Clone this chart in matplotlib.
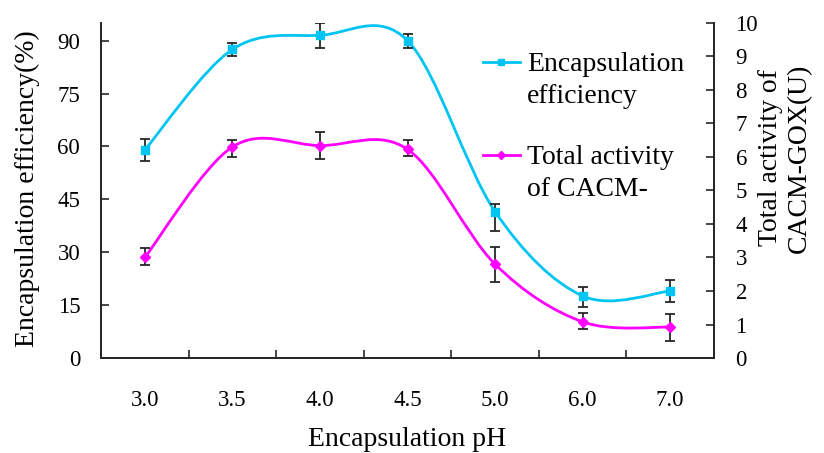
import numpy as np
import matplotlib.pyplot as plt
from matplotlib.path import Path
from matplotlib.patches import PathPatch
from matplotlib.lines import Line2D
from matplotlib.legend_handler import HandlerLine2D

ph_labels = ["3.0", "3.5", "4.0", "4.5", "5.0", "6.0", "7.0"]
efficiency = [59.0, 87.5, 91.5, 90.0, 41.5, 17.6, 19.0]
eff_err_low = [3.0, 1.9, 3.6, 2.0, 5.5, 3.2, 3.0]
eff_err_high = [3.0, 1.9, 3.6, 2.0, 2.3, 2.6, 3.0]
activity = [3.0, 6.3, 6.34, 6.23, 2.8, 1.08, 0.92]
act_err_low = [0.22, 0.3, 0.4, 0.2, 0.52, 0.21, 0.4]
act_err_high = [0.28, 0.2, 0.4, 0.27, 0.5, 0.27, 0.39]

plt.rcParams['font.family'] = ['Liberation Serif', 'DejaVu Serif']

CYAN = "#00C4F2"
MAGENTA = "#FF00FF"
AXCOL = "#262626"


def smooth_path(xs, ys):
    # Bezier smoothing like the spreadsheet "smoothed line" option
    xs = np.asarray(xs, float)
    ys = np.asarray(ys, float)
    n = len(xs)
    verts = [(xs[0], ys[0])]
    codes = [Path.MOVETO]
    for i in range(n - 1):
        p0 = np.array([xs[max(i - 1, 0)], ys[max(i - 1, 0)]])
        p1 = np.array([xs[i], ys[i]])
        p2 = np.array([xs[i + 1], ys[i + 1]])
        p3 = np.array([xs[min(i + 2, n - 1)], ys[min(i + 2, n - 1)]])
        c1 = p1 + (p2 - p0) / 6.0
        c2 = p2 - (p3 - p1) / 6.0
        verts += [tuple(c1), tuple(c2), tuple(p2)]
        codes += [Path.CURVE4] * 3
    return Path(verts, codes)


class FirstLineHandler(HandlerLine2D):
    # put the legend key beside the first line of a two-line label
    def create_artists(self, legend, orig_handle, xdescent, ydescent,
                       width, height, fontsize, trans):
        return super().create_artists(legend, orig_handle, xdescent,
                                      ydescent - 1.3 * fontsize, width, height,
                                      fontsize, trans)


x = np.arange(len(ph_labels))

fig = plt.figure(figsize=(8.24, 4.53), dpi=100)
ax = fig.add_axes([0.1226, 0.2097, 0.7439, 0.7396])
ax2 = ax.twinx()

ax.add_patch(PathPatch(smooth_path(x, efficiency), fill=False, edgecolor=CYAN,
                       lw=2.0, transform=ax.transData, zorder=2))
ax.errorbar(x, efficiency, yerr=[eff_err_low, eff_err_high], fmt='s', color=CYAN,
            markersize=5.5, ecolor=AXCOL, elinewidth=1.3, capsize=3.5, capthick=1.3, zorder=3)

ax2.add_patch(PathPatch(smooth_path(x, activity), fill=False, edgecolor=MAGENTA,
                        lw=2.0, transform=ax2.transData, zorder=2))
ax2.errorbar(x, activity, yerr=[act_err_low, act_err_high], fmt='D', color=MAGENTA,
             markersize=5, ecolor=AXCOL, elinewidth=1.3, capsize=3.5, capthick=1.3, zorder=3)

ax.set_xlim(-0.5, len(ph_labels) - 0.5)
ax.set_ylim(0, 95)
ax2.set_ylim(0, 10)

ax.set_xticks(x)
ax.set_xticklabels(ph_labels)
ax.set_xticks(np.arange(0.5, len(ph_labels) - 1, 1.0), minor=True)
ax.tick_params(axis='x', which='major', length=0, pad=23, labelsize=16.5)
ax.tick_params(axis='x', which='minor', direction='in', length=6, width=1.2, color=AXCOL)
ax.set_yticks(np.arange(0, 91, 15))
ax.tick_params(axis='y', direction='in', length=6, width=1.2, color=AXCOL, pad=15, labelsize=16.5)
ax2.set_yticks(np.arange(0, 11, 1))
ax2.tick_params(axis='y', direction='in', length=6, width=1.2, color=AXCOL, pad=15.5, labelsize=16.5)

for a in (ax, ax2):
    a.spines['top'].set_visible(False)
    for s in ('left', 'right', 'bottom'):
        a.spines[s].set_linewidth(1.3)
        a.spines[s].set_color(AXCOL)

ax.set_xlabel("Encapsulation pH", fontsize=20)
ax.xaxis.set_label_coords(0.5, -0.207)
ax.set_ylabel("Encapsulation efficiency(%)", fontsize=20)
ax.yaxis.set_label_coords(-0.10, 0.505)
ax2.set_ylabel("Total activity of\nCACM-GOX(U)", fontsize=20, rotation=90, linespacing=1.2)
ax2.yaxis.set_label_coords(1.072, 0.597)

handles = [Line2D([], [], color=CYAN, lw=2.0, marker='s', markersize=5),
           Line2D([], [], color=MAGENTA, lw=2.0, marker='D', markersize=4.5)]
leg = ax2.legend(handles, ["Encapsulation\nefficiency", "Total activity\nof CACM-"],
                 handler_map={Line2D: FirstLineHandler()},
                 loc='upper left', bbox_to_anchor=(0.623, 0.913), frameon=False, fontsize=20,
                 handlelength=1.33, handletextpad=0.25, labelspacing=1.3,
                 borderaxespad=0, borderpad=0)
for t in leg.get_texts():
    t.set_linespacing(1.35)

fig.savefig("out.png", dpi=100)
